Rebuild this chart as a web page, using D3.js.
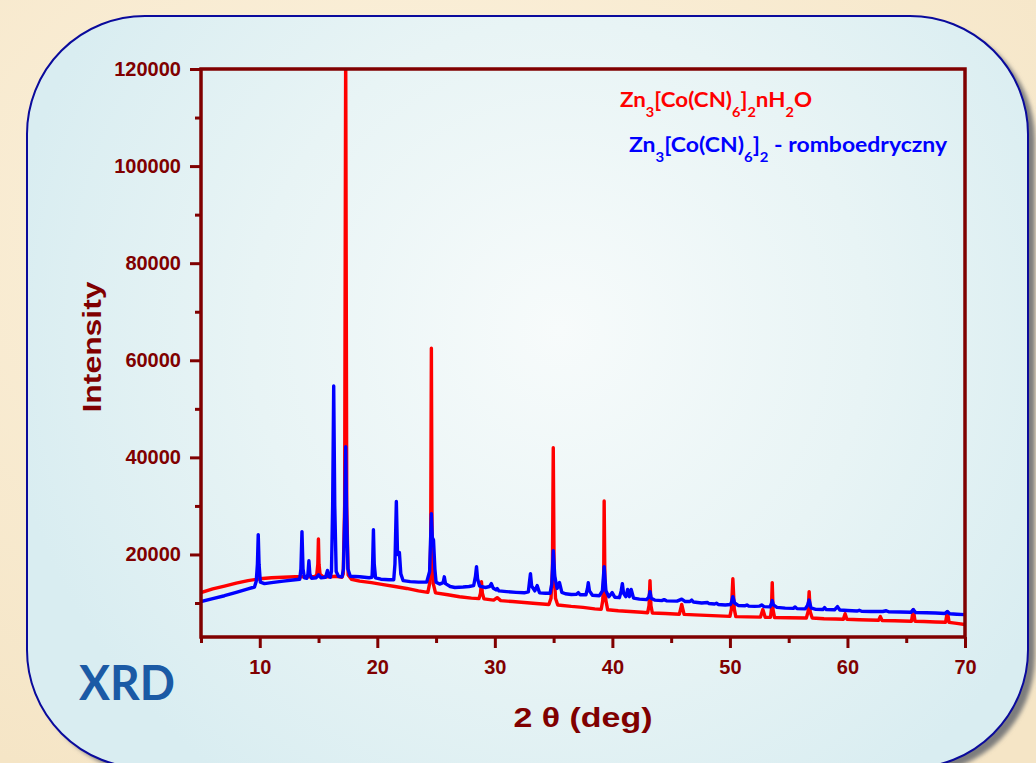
<!DOCTYPE html>
<html>
<head>
<meta charset="utf-8">
<script src="https://cdn.jsdelivr.net/npm/d3@7"></script>
<style>
  html, body { margin: 0; padding: 0; background: #f8ebd1; }
  svg { display: block; }
</style>
</head>
<body>
<svg id="chart" width="1036" height="763"></svg>
<script>
// ---------------- DATA ----------------
const xDomain = [5, 70];
const yDomain = [3000, 120000];
const xMajorTicks = [10, 20, 30, 40, 50, 60, 70];
const xMinorTicks = [5, 15, 25, 35, 45, 55, 65];
const yMajorTicks = [20000, 40000, 60000, 80000, 100000, 120000];
const yMinorTicks = [10000, 30000, 50000, 70000, 90000, 110000];
const xTitle = "2 θ (deg)";
const yTitle = "Intensity";
const cornerLabel = "XRD";
const seriesNames = ["Zn3[Co(CN)6]2nH2O", "Zn3[Co(CN)6]2 - romboedryczny"];

// red: Zn3[Co(CN)6]2·nH2O   [2theta, intensity]
const redSeries = [
[5.0,12140],[6.0,12900],[7.0,13500],[8.0,14100],[9.0,14600],[10.0,15000],[11.0,15200],[12.0,15300],[13.0,15400],[14.0,15400],[14.7,15400],
[14.85,15900],[14.94,18000],[14.99,23200],[15.04,18000],[15.13,15900],
[15.4,15400],[16.0,15400],[16.5,15500],[17.0,15300],
[17.1,16000],[17.22,30000],[17.31,125000],[17.4,30000],[17.52,15800],
[17.8,14900],[18.5,14500],[19.5,14200],[20.5,13800],[21.5,13400],[22.5,13000],[23.5,12500],[24.3,12200],
[24.45,14000],[24.54,22000],[24.6,62500],[24.66,22000],[24.76,14000],
[24.95,12100],[26.0,11700],[27.0,11300],[28.0,11000],[28.65,10900],
[28.78,12000],[28.86,14400],[28.94,12000],[29.07,10850],
[29.9,10600],[30.2,11100],[30.5,10500],
[31.5,10300],[32.5,10100],[33.5,9900],[34.6,9700],
[34.78,11000],[34.9,17000],[34.97,42000],[35.04,17000],[35.16,11000],
[35.35,9600],[36.5,9300],[37.5,9100],[38.5,8800],[39.05,8700],
[39.18,10500],[39.26,15000],[39.3,31000],[39.36,15000],[39.45,10500],
[39.6,8600],[40.5,8400],[41.5,8250],[42.5,8100],[43.0,8000],
[43.12,9500],[43.2,14600],[43.28,9500],[43.4,7950],
[44.5,7850],[45.7,7700],[45.9,9700],[46.1,7650],
[47.0,7550],[48.0,7450],[49.0,7350],[50.0,7250],
[50.13,8800],[50.25,15000],[50.37,8800],[50.5,7200],
[51.5,7150],[52.6,7100],[52.8,8650],[53.0,7050],
[53.45,7050],[53.53,8600],[53.6,14200],[53.67,8600],[53.8,7000],
[55.0,6950],[56.5,6900],[56.65,8200],[56.74,12350],[56.83,8200],[57.0,6900],
[58.0,6750],[59.0,6700],[59.65,6650],[59.8,7800],[59.95,6650],
[61.0,6550],[62.65,6450],[62.8,7200],[62.95,6400],
[64.0,6350],[65.45,6250],[65.6,8640],[65.75,6250],
[66.5,6200],[67.5,6100],[68.35,6050],[68.5,8230],[68.65,6000],
[69.3,5800],[70.0,5560]
];

// blue: Zn3[Co(CN)6]2 - romboedryczny   [2theta, intensity]
const blueSeries = [
[5.0,10290],[6.0,10900],[7.0,11500],[8.0,12200],[9.0,12900],[9.55,13300],
[9.7,14500],[9.8,18000],[9.87,24080],[9.94,18000],[10.05,14300],
[10.4,14000],[11.0,14200],[12.0,14500],[13.0,14800],[13.4,14900],
[13.5,17000],[13.59,24700],[13.68,17000],[13.8,15200],[14.0,15100],
[14.1,16000],[14.18,18700],[14.26,16000],[14.4,15100],
[14.8,15200],[15.0,15800],[15.2,15200],[15.6,15300],[15.76,16700],[15.9,15400],[16.0,15300],
[16.1,16500],[16.2,30000],[16.29,54700],[16.38,30000],[16.5,16500],
[16.7,15500],[17.0,15400],
[17.12,17000],[17.23,28000],[17.31,42200],[17.39,28000],[17.5,17000],
[17.7,15500],[18.5,15400],[19.3,15200],[19.55,15300],
[19.6,18000],[19.67,25100],[19.74,18000],[19.85,15200],
[20.3,14900],[21.0,14800],[21.4,14800],
[21.5,18000],[21.62,30900],[21.72,20000],[21.88,20400],[22.0,16000],[22.2,14600],
[22.8,14400],[23.5,14300],[24.2,14300],[24.45,16500],
[24.6,28400],[24.68,23500],[24.78,23000],[24.9,17000],[25.0,14300],
[25.3,13900],[25.6,14200],[25.7,15400],[25.8,14000],[26.2,13400],
[26.6,13200],[27.3,13300],[27.8,13400],[28.2,13600],
[28.35,15500],[28.44,17500],[28.53,15000],[28.7,13500],
[29.2,13200],[29.55,13400],[29.7,14000],[29.85,13100],[30.1,12700],[30.2,13000],[30.35,12500],
[31.0,12350],[31.8,12200],[32.5,12100],[32.85,12300],
[32.93,14000],[33.03,16050],[33.13,13500],[33.4,12500],[33.6,13580],[33.8,12100],
[34.3,12000],[34.7,12000],[34.85,14000],[34.97,20800],[35.1,15500],[35.3,13000],[35.5,14200],[35.7,12200],
[36.0,11900],[36.5,11750],[36.95,11800],[37.1,12140],[37.25,11700],[37.75,11700],
[37.88,13000],[37.95,14200],[38.05,12500],[38.3,11600],[38.9,11500],
[39.15,12500],[39.3,17500],[39.45,12500],[39.7,11300],
[39.98,12140],[40.2,11200],[40.6,11100],[40.75,12500],[40.85,14000],[40.95,12000],
[41.15,11300],[41.3,12800],[41.45,11300],[41.6,12800],[41.8,11000],
[42.3,10800],[42.9,10700],[43.1,11200],[43.2,12350],[43.3,11000],[43.6,10600],
[44.2,10500],[44.4,10700],[44.6,10450],[45.5,10400],[45.9,10800],[46.2,10300],
[46.6,10300],[46.75,10600],[46.9,10200],[47.6,10000],[48.1,10100],[48.2,9900],
[48.7,9800],[48.85,9950],[49.0,9700],[49.6,9600],[50.05,9700],
[50.15,10300],[50.25,11320],[50.4,10000],[50.7,9500],[51.3,9450],[51.45,9600],[51.6,9350],
[52.1,9300],[52.5,9350],[52.7,9600],[52.9,9250],[53.4,9200],
[53.52,9800],[53.6,10500],[53.7,9600],[54.0,9100],[54.7,8950],
[55.4,8900],[55.55,9200],[55.7,8850],[56.4,8800],[56.6,9500],[56.74,10600],[56.9,9000],
[57.3,8700],[57.9,8650],[58.05,9050],[58.2,8650],[58.9,8600],[59.15,9260],[59.35,8550],
[60.0,8450],[60.8,8350],[61.0,8500],[61.2,8300],[62.0,8250],[63.0,8250],[63.3,8400],[63.5,8200],
[64.5,8150],[65.4,8100],[65.6,8640],[65.8,8050],[66.7,8000],[67.5,7950],
[68.3,7850],[68.5,8230],[68.7,7800],[69.3,7700],[70.0,7600]
];

// ---------------- DRAWING ----------------
const W = 1036, H = 763;
const plot = {left: 201, right: 965, top: 69, bottom: 637};
const axisColor = "#800000";
const svg = d3.select("#chart");
const defs = svg.append("defs");

// background
const bgGrad = defs.append("radialGradient").attr("id", "bgGrad")
  .attr("cx", "40%").attr("cy", "30%").attr("r", "80%");
bgGrad.append("stop").attr("offset", "0%").attr("stop-color", "#fcf2de");
bgGrad.append("stop").attr("offset", "100%").attr("stop-color", "#f5e5c6");
svg.append("rect").attr("width", W).attr("height", H).attr("fill", "url(#bgGrad)");

// panel shadow
const blur = defs.append("filter").attr("id", "blur")
  .attr("x", "-5%").attr("y", "-5%").attr("width", "110%").attr("height", "110%");
blur.append("feGaussianBlur").attr("stdDeviation", 2);
svg.append("rect")
  .attr("x", 34).attr("y", 22).attr("width", 1001).attr("height", 752)
  .attr("rx", 118).attr("ry", 118)
  .attr("fill", "#7d7d7d").attr("filter", "url(#blur)");

// panel
const panelGrad = defs.append("radialGradient").attr("id", "panelGrad")
  .attr("gradientUnits", "userSpaceOnUse")
  .attr("cx", 560).attr("cy", 330).attr("r", 560);
panelGrad.append("stop").attr("offset", "0%").attr("stop-color", "#f7fbfb");
panelGrad.append("stop").attr("offset", "55%").attr("stop-color", "#e8f4f5");
panelGrad.append("stop").attr("offset", "100%").attr("stop-color", "#d9edf1");
svg.append("rect")
  .attr("x", 27).attr("y", 16).attr("width", 1001).attr("height", 752)
  .attr("rx", 118).attr("ry", 118)
  .attr("fill", "url(#panelGrad)")
  .attr("stroke", "#0a0a9c").attr("stroke-width", 2);

// scales
const x = d3.scaleLinear().domain(xDomain).range([plot.left, plot.right]);
const y = d3.scaleLinear().domain(yDomain).range([plot.bottom, plot.top]);

// clip
defs.append("clipPath").attr("id", "plotClip").append("rect")
  .attr("x", plot.left).attr("y", plot.top)
  .attr("width", plot.right - plot.left).attr("height", plot.bottom - plot.top);

const line = d3.line().x(d => x(d[0])).y(d => y(d[1]));
const gLines = svg.append("g").attr("clip-path", "url(#plotClip)");
gLines.append("path").datum(redSeries)
  .attr("d", line).attr("fill", "none")
  .attr("stroke", "#ff0000").attr("stroke-width", 3.4)
  .attr("stroke-linejoin", "round");
gLines.append("path").datum(blueSeries)
  .attr("d", line).attr("fill", "none")
  .attr("stroke", "#0000ff").attr("stroke-width", 3.4)
  .attr("stroke-linejoin", "round");

// axes (D3 axes, styled)
const tickFont = "'Liberation Sans', Arial, sans-serif";
function styleAxis(g) {
  g.select(".domain").remove();
  g.selectAll("line").attr("stroke", axisColor).attr("stroke-width", 3);
  g.selectAll("text").attr("fill", axisColor)
    .attr("font-family", tickFont).attr("font-weight", "bold").attr("font-size", 20);
}
// bottom major
svg.append("g").attr("transform", `translate(0,${plot.bottom})`)
  .call(d3.axisBottom(x).tickValues(xMajorTicks).tickSize(11).tickPadding(12).tickFormat(d3.format("d")))
  .call(styleAxis);
// bottom minor
svg.append("g").attr("transform", `translate(0,${plot.bottom})`)
  .call(d3.axisBottom(x).tickValues(xMinorTicks).tickSize(6).tickFormat(""))
  .call(styleAxis);
// left major
svg.append("g").attr("transform", `translate(${plot.left},0)`)
  .call(d3.axisLeft(y).tickValues(yMajorTicks).tickSize(11).tickPadding(9).tickFormat(d3.format("d")))
  .call(styleAxis);
// left minor
svg.append("g").attr("transform", `translate(${plot.left},0)`)
  .call(d3.axisLeft(y).tickValues(yMinorTicks).tickSize(6).tickFormat(""))
  .call(styleAxis);

// frame
svg.append("rect")
  .attr("x", plot.left).attr("y", plot.top)
  .attr("width", plot.right - plot.left).attr("height", plot.bottom - plot.top)
  .attr("fill", "none").attr("stroke", axisColor).attr("stroke-width", 3.5);

// axis titles
svg.append("text")
  .attr("x", 583).attr("y", 727)
  .attr("text-anchor", "middle")
  .attr("font-family", tickFont).attr("font-weight", "bold").attr("font-size", 28)
  .attr("fill", axisColor)
  .attr("textLength", 139).attr("lengthAdjust", "spacingAndGlyphs")
  .text(xTitle);

svg.append("text")
  .attr("transform", "translate(101,347) rotate(-90)")
  .attr("text-anchor", "middle")
  .attr("font-family", tickFont).attr("font-weight", "bold").attr("font-size", 26)
  .attr("fill", axisColor)
  .attr("textLength", 131).attr("lengthAdjust", "spacingAndGlyphs")
  .text(yTitle);

// legend texts with subscripts
const legFont = "Lato, 'Open Sans', sans-serif";
function formula(xPos, yPos, parts, color, totalLen) {
  const t = svg.append("text")
    .attr("x", xPos).attr("y", yPos)
    .attr("font-family", legFont).attr("font-weight", "bold")
    .attr("font-size", 20).attr("fill", color)
    .attr("textLength", totalLen).attr("lengthAdjust", "spacingAndGlyphs");
  let sub = false;
  parts.forEach(p => {
    const isSub = p.sub === true;
    const ts = t.append("tspan").text(p.t);
    if (isSub && !sub) ts.attr("dy", 10).attr("font-size", 13);
    else if (isSub && sub) ts.attr("font-size", 13);
    else if (!isSub && sub) ts.attr("dy", -10);
    sub = isSub;
  });
}
formula(620, 107, [
  {t: "Zn"}, {t: "3", sub: true}, {t: "[Co(CN)"}, {t: "6", sub: true},
  {t: "]"}, {t: "2", sub: true}, {t: "nH"}, {t: "2", sub: true}, {t: "O"}
], "#ff0000", 192);
formula(629, 152, [
  {t: "Zn"}, {t: "3", sub: true}, {t: "[Co(CN)"}, {t: "6", sub: true},
  {t: "]"}, {t: "2", sub: true}, {t: " - romboedryczny"}
], "#0000ff", 318);

// XRD label
svg.append("text")
  .attr("x", 79).attr("y", 700)
  .attr("font-family", legFont).attr("font-weight", "bold").attr("font-size", 48)
  .attr("fill", "#1b5aa5")
  .attr("textLength", 96).attr("lengthAdjust", "spacingAndGlyphs")
  .text(cornerLabel);
</script>
</body>
</html>
